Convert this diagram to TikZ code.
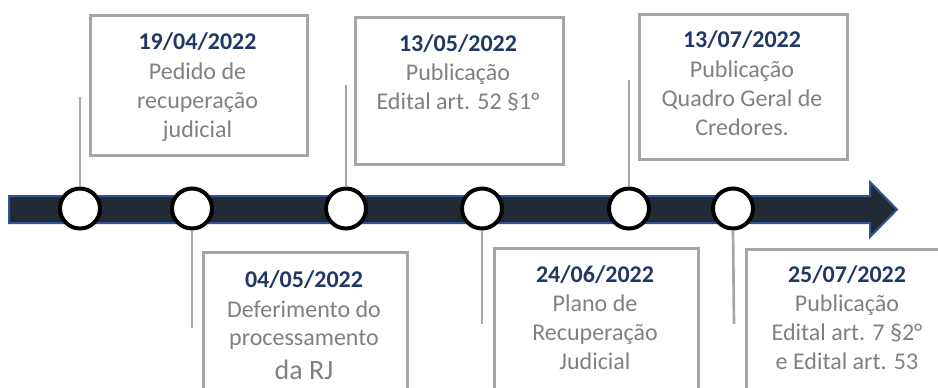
\documentclass[tikz,border=0pt]{standalone}
\usepackage{fontspec}
\setmainfont{Carlito}
\definecolor{boxgray}{HTML}{A6A6A6}
\definecolor{txtgray}{HTML}{808080}
\definecolor{datecol}{HTML}{1F3864}
\definecolor{arrowfill}{HTML}{222A35}
\definecolor{arrowedge}{HTML}{2F5597}
\newcommand{\evlines}[1]{\begin{tabular}[t]{@{}c@{}}#1\end{tabular}}
\begin{document}
\begin{tikzpicture}[x=0.75pt,y=-0.75pt,
  evbox/.style={draw=boxgray,line width=2pt,fill=white,anchor=north west,inner sep=0pt},
  datetext/.style={anchor=base,text=datecol,font=\fontsize{18}{21.75}\selectfont\bfseries,inner sep=0pt},
  bodytext/.style={anchor=base,text=txtgray,font=\fontsize{18}{21.75}\selectfont,inner sep=0pt},
  dot/.style={circle,draw=black,fill=white,line width=3pt,minimum size=30pt,inner sep=0pt},
  stem/.style={draw=boxgray,line width=2pt}]
\useasboundingbox (0,0) rectangle (938,387);
\clip (0,0) rectangle (938,387);
% boxes
\node[evbox,minimum width=162.75pt,minimum height=105pt] (b1) at (89,14) {};
\node[evbox,minimum width=156pt,minimum height=110.25pt] (b2) at (354,16) {};
\node[evbox,minimum width=156pt,minimum height=108.75pt] (b3) at (638,13) {};
\node[evbox,minimum width=153pt,minimum height=120pt] (b4) at (202,251) {};
\node[evbox,minimum width=153pt,minimum height=120pt] (b5) at (493,247) {};
\node[evbox,minimum width=154pt,minimum height=120pt] (b6) at (745,248) {};
% texts
\node[datetext] (d1) at (197.5,49) {19/04/2022};
\node[bodytext] (t1) at (197.5,79) {\evlines{Pedido de\\recuperação\\judicial}};
\node[datetext] (d2) at (458,51) {13/05/2022};
\node[bodytext] (t2) at (458,80) {\evlines{Publicação\\Edital art. 52 §1°}};
\node[datetext] (d3) at (742,47) {13/07/2022};
\node[bodytext] (t3) at (742,77) {\evlines{Publicação\\Quadro Geral de\\Credores.}};
\node[datetext] (d4) at (304,287) {04/05/2022};
\node[bodytext,font=\fontsize{18}{21}\selectfont] (t4) at (304,317) {\evlines{Deferimento do\\processamento}};
\node[bodytext,font=\fontsize{21}{25}\selectfont] (t4b) at (304,379) {da RJ};
\node[datetext] (d5) at (595,282) {24/06/2022};
\node[bodytext] (t5) at (595,311) {\evlines{Plano de\\Recuperação\\Judicial}};
\node[datetext] (d6) at (847,282) {25/07/2022};
\node[bodytext] (t6) at (847,311) {\evlines{Publicação\\Edital art. 7 §2°\\e Edital art. 53}};
% arrow
\path[fill=arrowfill,draw=arrowedge,line width=1.5pt,line join=miter]
  (9,196) -- (870,196) -- (870,182) -- (897,209.5) -- (870,237) -- (870,223) -- (9,223) -- cycle;
% stems
\coordinate (s1) at (80,97);
\coordinate (s2) at (192,328);
\coordinate (s3) at (346,85);
\coordinate (s4) at (482,324);
\coordinate (s5) at (629,80);
\coordinate (s6) at (734,324);
% circles
\node[dot] (c1) at (80,208.5) {};
\node[dot] (c2) at (192,208.5) {};
\node[dot] (c3) at (346,208.5) {};
\node[dot] (c4) at (482,208.5) {};
\node[dot] (c5) at (629,208.5) {};
\node[dot] (c6) at (733,208.5) {};
\draw[stem] (c1.north) -- (s1);
\draw[stem] (c2.south) -- (s2);
\draw[stem] (c3.north) -- (s3);
\draw[stem] (c4.south) -- (s4);
\draw[stem] (c5.north) -- (s5);
\draw[stem] (c6.south) -- (s6);
\end{tikzpicture}
\end{document}
